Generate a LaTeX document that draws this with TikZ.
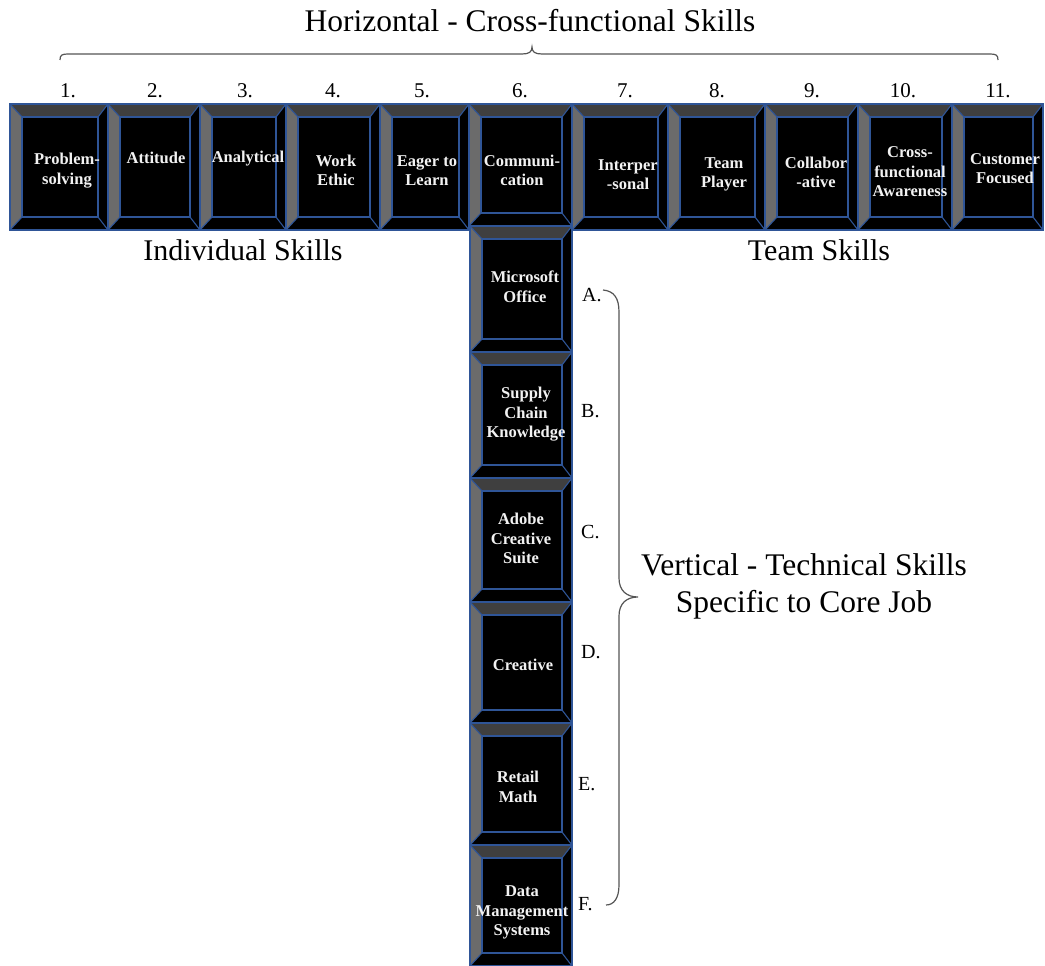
\documentclass[tikz,border=0pt]{standalone}
\usepackage{fontspec}
\setmainfont{Liberation Serif}
\definecolor{bblue}{HTML}{2F5597}
\definecolor{bdark}{HTML}{3F3F3F}
\definecolor{bmid}{HTML}{6B6B6B}
\definecolor{braceg}{HTML}{555555}
\tikzset{
  bev/.style={rectangle, draw=bblue, line width=1.3pt, fill=black, inner sep=0pt,
    path picture={
      \coordinate (pNW) at (path picture bounding box.north west);
      \coordinate (pNE) at (path picture bounding box.north east);
      \coordinate (pSW) at (path picture bounding box.south west);
      \coordinate (pSE) at (path picture bounding box.south east);
      \coordinate (iNW) at ([shift={(12pt,-13pt)}]pNW);
      \coordinate (iNE) at ([shift={(-10pt,-13pt)}]pNE);
      \coordinate (iSW) at ([shift={(12pt,13pt)}]pSW);
      \coordinate (iSE) at ([shift={(-10pt,13pt)}]pSE);
      \fill[bdark] (pNW) -- (pNE) -- (iNE) -- (iNW) -- cycle;
      \fill[bmid] (pNW) -- (iNW) -- (iSW) -- (pSW) -- cycle;
      \draw[bblue, line width=1.1pt] (iNW) rectangle (iSE);
      \draw[bblue, line width=1.1pt] (pNW) -- (iNW) (pNE) -- (iNE) (pSW) -- (iSW) (pSE) -- (iSE);
    }},
  btext/.style={inner sep=0pt, align=center, text=white!95!black,
    font=\fontsize{16.5}{19.5}\selectfont\bfseries},
  bigtext/.style={inner sep=0pt, anchor=base, font=\fontsize{30}{37}\selectfont, align=center},
  numtext/.style={inner sep=0pt, anchor=base, font=\fontsize{21}{24}\selectfont},
  lettext/.style={inner sep=0pt, anchor=base west, font=\fontsize{20}{22}\selectfont},
  bracestyle/.style={draw=braceg, line width=1.2pt}
}
\begin{document}
\begin{tikzpicture}[x=1pt, y=-1pt]
\useasboundingbox (0,0) rectangle (1045,966);
% horizontal row
\node[bev, minimum width=98pt, minimum height=126pt] (b1) at (59,167) {};
\node[bev, minimum width=92pt, minimum height=126pt] (b2) at (154,167) {};
\node[bev, minimum width=86pt, minimum height=126pt] (b3) at (243,167) {};
\node[bev, minimum width=94pt, minimum height=126pt] (b4) at (333,167) {};
\node[bev, minimum width=89pt, minimum height=126pt] (b5) at (424.5,167) {};
\node[bev, minimum width=103pt, minimum height=122pt] (b6) at (520.5,165) {};
\node[bev, minimum width=96pt, minimum height=126pt] (b7) at (620,167) {};
\node[bev, minimum width=97pt, minimum height=126pt] (b8) at (716.5,167) {};
\node[bev, minimum width=93pt, minimum height=126pt] (b9) at (811.5,167) {};
\node[bev, minimum width=94pt, minimum height=126pt] (b10) at (905,167) {};
\node[bev, minimum width=91pt, minimum height=126pt] (b11) at (997.5,167) {};
% vertical column
\node[bev, minimum width=102pt, minimum height=126pt] (vA) at (521,289) {};
\node[bev, minimum width=102pt, minimum height=126pt] (vB) at (521,415) {};
\node[bev, minimum width=102pt, minimum height=124pt] (vC) at (521,540) {};
\node[bev, minimum width=102pt, minimum height=121pt] (vD) at (521,662.5) {};
\node[bev, minimum width=102pt, minimum height=122pt] (vE) at (521,784) {};
\node[bev, minimum width=102pt, minimum height=121pt] (vF) at (521,905.5) {};
% box texts
\node[btext] (t1) at (67,170.5) {Problem-\\solving};
\node[btext] (t2) at (156,157.5) {Attitude};
\node[btext] (t3) at (248,158.2) {Analytical};
\node[btext] (t4) at (336,170.5) {Work\\Ethic};
\node[btext] (t5) at (427,170.5) {Eager to\\Learn};
\node[btext] (t6) at (522,170.5) {Communi-\\cation};
\node[btext] (t7) at (628,174.5) {Interper\\-sonal};
\node[btext] (t8) at (724,174.5) {Team\\Player};
\node[btext] (t9) at (816,172.5) {Collabor\\-ative};
\node[btext] (t10) at (910,172) {Cross-\\functional\\Awareness};
\node[btext] (t11) at (1005,168.5) {Customer\\Focused};
\node[btext] (tA) at (525,287) {Microsoft\\Office};
\node[btext] (tB) at (526,414.5) {Supply\\Chain\\Knowledge};
\node[btext] (tC) at (521,538.5) {Adobe\\Creative\\Suite};
\node[btext] (tD) at (523,664.5) {Creative};
\node[btext] (tE) at (518,787) {Retail\\Math};
\node[btext] (tF) at (522,912.5) {Data\\Management\\Systems};
% numbers
\node[numtext] (n1) at (68,97) {1.};
\node[numtext] (n2) at (155,97) {2.};
\node[numtext] (n3) at (245,97) {3.};
\node[numtext] (n4) at (333,97) {4.};
\node[numtext] (n5) at (422,97) {5.};
\node[numtext] (n6) at (520,97) {6.};
\node[numtext] (n7) at (625,97) {7.};
\node[numtext] (n8) at (717,97) {8.};
\node[numtext] (n9) at (812,97) {9.};
\node[numtext] (n10) at (903,97) {10.};
\node[numtext] (n11) at (998,97) {11.};
% letters
\node[lettext] (lA) at (582,301) {A.};
\node[lettext] (lB) at (581,417) {B.};
\node[lettext] (lC) at (581,538) {C.};
\node[lettext] (lD) at (581,658) {D.};
\node[lettext] (lE) at (578,790) {E.};
\node[lettext] (lF) at (578,910) {F.};
% labels
\node[bigtext, font=\fontsize{31.5}{37}\selectfont] (title) at (530,32) {Horizontal - Cross-functional Skills};
\node[bigtext] (indiv) at (243,260) {Individual Skills};
\node[bigtext] (team) at (819,260) {Team Skills};
\node[bigtext, font=\fontsize{31.5}{37}\selectfont] (vert1) at (804,575) {Vertical - Technical Skills};
\node[bigtext, font=\fontsize{31.5}{37}\selectfont] (vert2) at (804,612) {Specific to Core Job};
% braces
\coordinate (hbL) at (60,60);
\coordinate (hbT) at (532,47);
\coordinate (hbR) at (998,60);
\draw[bracestyle] (hbL) .. controls (60,55) and (62,54) .. (68,54) -- (522,54)
  .. controls (529,54) and (532,52) .. (hbT)
  .. controls (532,52) and (535,54) .. (542,54) -- (990,54)
  .. controls (996,54) and (998,55) .. (hbR);
\coordinate (vbA) at (603,290);
\coordinate (vbT) at (638,597);
\coordinate (vbF) at (606,905);
\draw[bracestyle] (vbA) .. controls (614,291) and (619,298) .. (619,312) -- (619,578)
  .. controls (619,591) and (627,597) .. (vbT)
  .. controls (627,597) and (619,603) .. (619,616) -- (619,885)
  .. controls (619,898) and (614,905) .. (vbF);
\end{tikzpicture}
\end{document}
